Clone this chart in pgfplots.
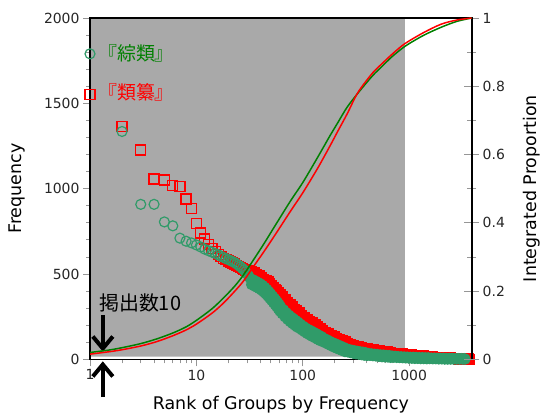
\documentclass[border=0pt]{standalone}
\usepackage{pgfplots}
\pgfplotsset{compat=1.18}
\usepackage{fontspec}
\setmainfont{DejaVu Sans}
\newfontfamily\cjk{Noto Sans CJK JP}
\usetikzlibrary{arrows.meta}
\definecolor{mkgreen}{RGB}{48,155,105}
\definecolor{lngreen}{RGB}{0,128,0}
\definecolor{bggray}{RGB}{169,169,169}
\definecolor{tickgray}{RGB}{150,150,150}
\newcommand{\lblfont}{\fontsize{17.5}{20}\selectfont}
\newcommand{\tkfont}{\fontsize{14}{16}\selectfont}

% red squares: top ranks (open marks)
\pgfplotstableread{
r f
1 1551
2 1365
3 1227
4 1057
5 1051
6 1018
7 1012
8 939
9 886
10 798
11 740
12 705
13 672
14 648
15 630
16 615
17 603
18 593
19 584
20 576
21 570
22 564
23 558
24 552
25 546
26 540
27 534
28 528
29 522
30 516
}\redhead

% red squares: dense tail
\pgfplotstableread{
r f
31 522
32 493
33 514
34 488
35 508
36 480
37 499
38 470
39 489
40 460
41 479
42 450
43 469
44 440
45 459
46 430
47 453
48 416
49 443
50 406
51 433
52 395
53 422
54 385
55 411
56 374
57 401
58 364
59 391
60 354
61 381
62 344
64 367
66 326
68 349
70 309
72 333
74 294
76 319
78 280
80 306
82 268
84 294
86 257
88 283
90 246
92 272
95 235
98 258
101 221
104 245
107 209
110 234
113 198
116 223
119 189
122 214
126 179
130 203
134 167
138 192
142 156
146 181
150 147
154 169
159 140
164 159
169 130
174 150
179 121
184 141
190 112
196 132
202 104
208 124
214 96
221 116
228 88
235 108
242 81
249 101
257 77
265 92
273 71
281 86
289 66
298 81
307 61
316 77
325 57
335 73
345 53
355 69
365 49
377 65
389 46
401 62
414 44
428 57
442 42
456 54
471 39
487 52
503 36
519 49
536 34
554 47
572 32
590 45
610 30
630 43
650 28
670 41
692 29
715 36
738 28
762 35
787 26
813 33
840 24
868 31
897 22
927 29
958 21
990 28
1023 19
1057 26
1092 17
1128 24
1165 15
1203 22
1243 13
1284 21
1326 12
1370 19
1415 10
1462 18
1510 9
1560 15
1611 10
1664 13
1719 9
1776 12
1835 8
1895 11
1958 7
2023 10
2090 6
2159 9
2230 5
2304 9
2380 4
2459 8
2540 4
2624 7
2711 3
2800 6
2893 2
2988 6
3087 2
3189 5
3294 1
3403 5
3515 1
3631 3
3650 1
}\redtail

% green circles: top ranks (open marks)
\pgfplotstableread{
r f
1 1790
2 1335
3 908
4 908
5 805
6 782
7 710
8 692
9 682
10 670
11 658
12 645
13 636
14 628
15 620
16 612
17 604
18 597
19 590
20 584
21 578
22 572
23 566
24 558
25 550
26 542
27 533
28 524
29 514
30 500
}\greenhead

% green circles: dense tail
\pgfplotstableread{
r f
31 488
32 474
33 438
34 466
35 430
36 458
37 422
38 450
39 414
40 442
41 405
42 432
43 394
44 421
45 383
46 409
47 370
48 396
49 357
50 383
51 345
52 370
53 332
54 358
55 320
56 346
57 308
58 333
59 295
60 321
61 282
62 308
64 267
66 290
68 249
70 273
72 234
74 259
76 221
78 247
80 210
82 237
84 200
86 227
88 190
90 218
92 184
95 206
98 172
101 194
104 161
107 183
110 151
113 174
116 143
119 167
122 135
126 159
130 126
134 150
138 117
142 141
146 109
150 133
154 104
159 122
164 96
169 114
174 88
179 106
184 80
190 98
196 72
202 91
208 65
214 84
221 58
228 77
235 51
242 70
249 45
257 62
265 43
273 57
281 39
289 53
298 35
307 50
316 32
325 47
335 30
345 44
355 27
365 42
377 24
389 39
401 22
414 34
428 23
442 32
456 21
471 30
487 19
503 28
519 17
536 26
554 15
572 25
590 14
610 23
630 13
650 22
670 11
692 19
715 12
738 18
762 11
787 16
813 10
840 15
868 9
897 14
927 8
958 13
990 7
1023 12
1057 6
1092 12
1128 5
1165 11
1203 5
1243 10
1284 4
1326 10
1370 4
1415 9
1462 3
1510 9
1560 4
1611 7
1664 3
1719 7
1776 3
1835 6
1895 2
1958 6
2023 2
2090 6
2159 1
2230 5
2304 1
2380 5
2459 1
2540 5
2624 1
2711 4
2800 1
2893 4
2988 1
3087 4
3189 1
3294 4
3350 1
}\greentail

\begin{document}
\begin{tikzpicture}
\begin{axis}[
  name=ax,
  scale only axis, width=381.7bp, height=341.3bp,
  xmode=log, xmin=1, xmax=3867, ymin=0, ymax=2000,
  clip=false, axis on top,
  tick pos=left, tick align=outside,
  major tick length=7bp, minor tick length=4bp,
  tick style={tickgray, line width=0.8pt},
  axis line style={line width=1.6pt, black},
  xtick={1,10,100,1000}, xticklabels={1,10,100,1000},
  minor xtick={2,3,4,5,6,7,8,9,20,30,40,50,60,70,80,90,200,300,400,500,600,700,800,900,2000,3000},
  ytick={0,500,1000,1500,2000}, yticklabels={0,500,1000,1500,2000},
  minor ytick={100,200,300,400,600,700,800,900,1100,1200,1300,1400,1600,1700,1800,1900},
  ticklabel style={font=\tkfont, text=black!85},
]
\addplot[fill=bggray, draw=none] coordinates {(1,15) (910,15) (910,2000) (1,2000) (1,15)};
\addplot[only marks, mark=square, mark size=5bp, mark options={draw=red, line width=1.2pt}] table[x=r, y=f] {\redhead};
\addplot[only marks, mark=square*, mark size=5bp, mark options={draw=red, fill=red, line width=1.2pt}] table[x=r, y=f] {\redtail};
\addplot[only marks, mark=o, mark size=5bp, mark options={draw=mkgreen, line width=1.2pt}] table[x=r, y=f] {\greenhead};
\addplot[only marks, mark=*, mark size=5bp, mark options={draw=mkgreen, fill=mkgreen, line width=1.2pt}] table[x=r, y=f] {\greentail};
\node[anchor=west, inner sep=0, text=lngreen, font=\cjk\fontsize{19}{21}\selectfont] at ([xshift=8bp]axis cs:1,1795) {『綜類』};
\node[anchor=west, inner sep=0, text=red, font=\cjk\fontsize{19}{21}\selectfont] at ([xshift=8bp]axis cs:1,1567) {『類纂』};
\node[anchor=west, inner sep=0, text=black, font=\cjk\fontsize{20}{22}\selectfont] at ([xshift=9bp]axis cs:1,330) {掲出数10};
\draw[-{Straight Barb[length=12bp,width=20bp]}, line width=4bp] (axis cs:1.32,260) -- (axis cs:1.32,45);
\draw[-{Straight Barb[length=12bp,width=20bp]}, line width=4bp] (axis cs:1.32,-222) -- (axis cs:1.32,-12);
\end{axis}
\begin{axis}[
  scale only axis, width=381.7bp, height=341.3bp,
  xmode=log, xmin=1, xmax=3867, ymin=0, ymax=1,
  axis x line=none, axis y line*=right,
  axis line style={-, line width=1.6pt, black},
  tick align=center, major tick length=15bp, minor tick length=9bp,
  tick style={tickgray, line width=0.8pt},
  ytick={0,0.2,0.4,0.6,0.8,1}, yticklabels={0,0.2,0.4,0.6,0.8,1},
  minor ytick={0.1,0.3,0.5,0.7,0.9},
  ticklabel style={font=\tkfont, text=black!85},
]
\addplot[lngreen, line width=1.5pt, smooth] coordinates {
(1,0.020) (1.5,0.027) (2,0.034) (3,0.046) (4.26,0.060) (6,0.077) (8,0.095) (10.1,0.115) (14,0.148) (18,0.180) (23,0.215) (27.8,0.248) (35,0.295) (43,0.338) (55,0.392) (77,0.465) (100,0.518) (138,0.592) (180,0.655) (213,0.693) (260,0.738) (330,0.780) (450,0.830) (550,0.857) (680,0.885) (850,0.910) (1000,0.925) (1380,0.950) (2000,0.973) (2800,0.990) (3867,1.0)};
\addplot[red, line width=1.5pt, smooth] coordinates {
(1,0.015) (1.5,0.022) (2,0.028) (3,0.039) (4.26,0.052) (6,0.069) (8,0.086) (10.1,0.104) (14,0.135) (18,0.165) (23,0.200) (27.8,0.230) (35,0.275) (43,0.315) (55,0.365) (77,0.435) (100,0.488) (138,0.560) (180,0.625) (213,0.668) (260,0.718) (330,0.782) (450,0.838) (550,0.865) (680,0.892) (850,0.918) (1000,0.933) (1380,0.958) (2000,0.982) (2800,0.994) (3867,1.0)};
\end{axis}
\node[rotate=90, anchor=north, inner sep=0, font=\lblfont] at ([xshift=-81bp]ax.west) {Frequency};
\node[rotate=90, anchor=north, inner sep=0, font=\lblfont] at ([xshift=51bp]ax.east) {Integrated Proportion};
\node[anchor=north, inner sep=0, font=\lblfont] at ([yshift=-36.4bp]ax.south) {Rank of Groups by Frequency};
\pgfresetboundingbox
\path ([shift={(-90bp,-56.7bp)}]ax.south west) rectangle ([shift={(68.3bp,18bp)}]ax.north east);
\end{tikzpicture}
\end{document}
